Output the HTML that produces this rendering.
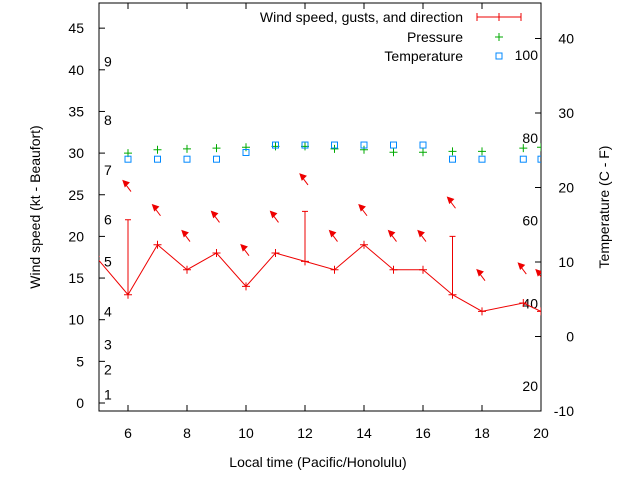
<!DOCTYPE html>
<html><head><meta charset="utf-8"><style>
html,body{margin:0;padding:0;background:#fff;}
svg text{font-family:"Liberation Sans",sans-serif;font-size:14px;fill:#000;}
</style></head><body>
<svg id="chart" width="640" height="480" xmlns="http://www.w3.org/2000/svg">
<defs><clipPath id="pc"><rect x="99" y="3" width="442" height="408"/></clipPath></defs>
<g id="axes"></g>
<g id="marks" clip-path="url(#pc)"></g>
<g id="legend">
<text x="463" y="22" text-anchor="end">Wind speed, gusts, and direction</text>
<line x1="477" y1="17" x2="521" y2="17" stroke="#e00"/>
<line x1="477" y1="13" x2="477" y2="21" stroke="#e00"/><line x1="521" y1="13" x2="521" y2="21" stroke="#e00"/><line x1="499" y1="13" x2="499" y2="21" stroke="#e00"/>
<text x="463" y="42" text-anchor="end">Pressure</text>
<path d="M495 37h8M499 33v8" stroke="#0a0"/>
<text x="463" y="61" text-anchor="end">Temperature</text>
<rect x="496" y="53" width="6" height="6" fill="none" stroke="#08f"/>
</g>
</svg>
<script>
const hours=[4.9,6,7,8,9,10,11,12,13,14,15,16,17,18,19.4,20];
const wind=[17.6,13,19,16,18,14,18,17,16,19,16,16,13,11,12,11];
const gust=[null,22,null,null,null,null,null,23,null,null,null,null,20,null,null,null];
const arrowLevel=[null,26.1,23.2,20.1,22.4,18.4,22.4,26.9,20.1,23.2,20.1,20.1,24.1,15.4,16.2,15.4];
const pHours=[6,7,8,9,10,11,12,13,14,15,16,17,18,19.4,20];
const pressure=[30.0,30.4,30.5,30.6,30.7,30.8,30.8,30.5,30.4,30.1,30.1,30.2,30.2,30.6,30.7];
const temperature=[23.8,23.8,23.8,23.8,24.7,25.7,25.7,25.7,25.7,25.7,25.7,23.8,23.8,23.8,23.8];
const xTicks=[6,8,10,12,14,16,18,20];
const yTicks=[0,5,10,15,20,25,30,35,40,45];
const y2Ticks=[-10,0,10,20,30,40];
const fTicks=[20,40,60,80,100];
const beaufortKt=[1,4,7,11,17,22,28,34,41];

const X=h=>98.5+(h-5)*29.5;
const Y=v=>403-v*8.33;
const Y2=c=>336.5-c*7.45;
const NS="http://www.w3.org/2000/svg";
function mk(tag,attrs,parent,txt){const e=document.createElementNS(NS,tag);for(const k in attrs)e.setAttribute(k,attrs[k]);if(txt!==undefined)e.textContent=txt;parent.appendChild(e);return e;}
const ax=document.getElementById('axes'),mg=document.getElementById('marks');

let fr=mk('rect',{x:99,y:3,width:442,height:408,fill:'none',stroke:'#000'},ax);


xTicks.forEach(t=>{const x=X(t);
 mk('path',{d:`M${x} 411v-6M${x} 3v6`,stroke:'#000'},ax);
 let l=mk('text',{x:x,y:438,'text-anchor':'middle'},ax,String(t));
 
 });
yTicks.forEach(t=>{const y=Y(t);
 mk('path',{d:`M99 ${y}h6`,stroke:'#000'},ax);
 let l=mk('text',{x:84,y:y+5,'text-anchor':'end'},ax,String(t));
 
 });
y2Ticks.forEach(t=>{const y=Y2(t);
 mk('path',{d:`M541 ${y}h-6`,stroke:'#000'},ax);
 let l=mk('text',{x:574,y:y+5,'text-anchor':'end'},ax,String(t));
 
 });
fTicks.forEach(f=>{const c=(f-32)*5/9;
 let l=mk('text',{x:538,y:Y2(c)+5,'text-anchor':'end'},ax,String(f));
 
 });
beaufortKt.forEach((k,i)=>{
 let l=mk('text',{x:104,y:Y(k)+5},ax,String(i+1));
 
 });
let xt=mk('text',{x:318,y:467,'text-anchor':'middle'},ax,'Local time (Pacific/Honolulu)');


let yt=mk('text',{x:0,y:0,transform:'translate(40 207) rotate(-90)','text-anchor':'middle'},ax,'Wind speed (kt - Beaufort)');


let y2t=mk('text',{x:0,y:0,transform:'translate(609 207) rotate(-90)','text-anchor':'middle'},ax,'Temperature (C - F)');



let line=mk('polyline',{points:hours.map((h,i)=>X(h)+','+Y(wind[i])).join(' '),fill:'none',stroke:'#e00'},mg);


hours.forEach((h,i)=>{const x=X(h),y=Y(wind[i]);
 let p=mk('path',{d:`M${x-4} ${y}h8M${x} ${y-4}v8`,stroke:'#e00'},mg);
 
 
 if(gust[i]!=null){let g=mk('path',{d:`M${x} ${y}V${Y(gust[i])}M${x-3} ${Y(gust[i])}h6`,stroke:'#e00'},mg);
  
  }
 if(arrowLevel[i]!=null){const ay=Y(arrowLevel[i]);
  let a=mk('g',{},mg);
  
  
  mk('line',{x1:x+3,y1:ay+6,x2:x-3,y2:ay-2,stroke:'#e00'},a);
  mk('path',{d:`M${x-5} ${ay-5}L${x+1} ${ay-3}L${x-3} ${ay+1}Z`,fill:'#e00',stroke:'#e00'},a);}
});
pHours.forEach((h,i)=>{const x=X(h),y=Y(pressure[i]);
 let p=mk('path',{d:`M${x-4} ${y}h8M${x} ${y-4}v8`,stroke:'#0a0'},mg);
 
 
 const ty=Y2(temperature[i]);
 let r=mk('rect',{x:x-3,y:ty-3,width:6,height:6,fill:'none',stroke:'#08f'},mg);
 
 
});
</script>
</body></html>
